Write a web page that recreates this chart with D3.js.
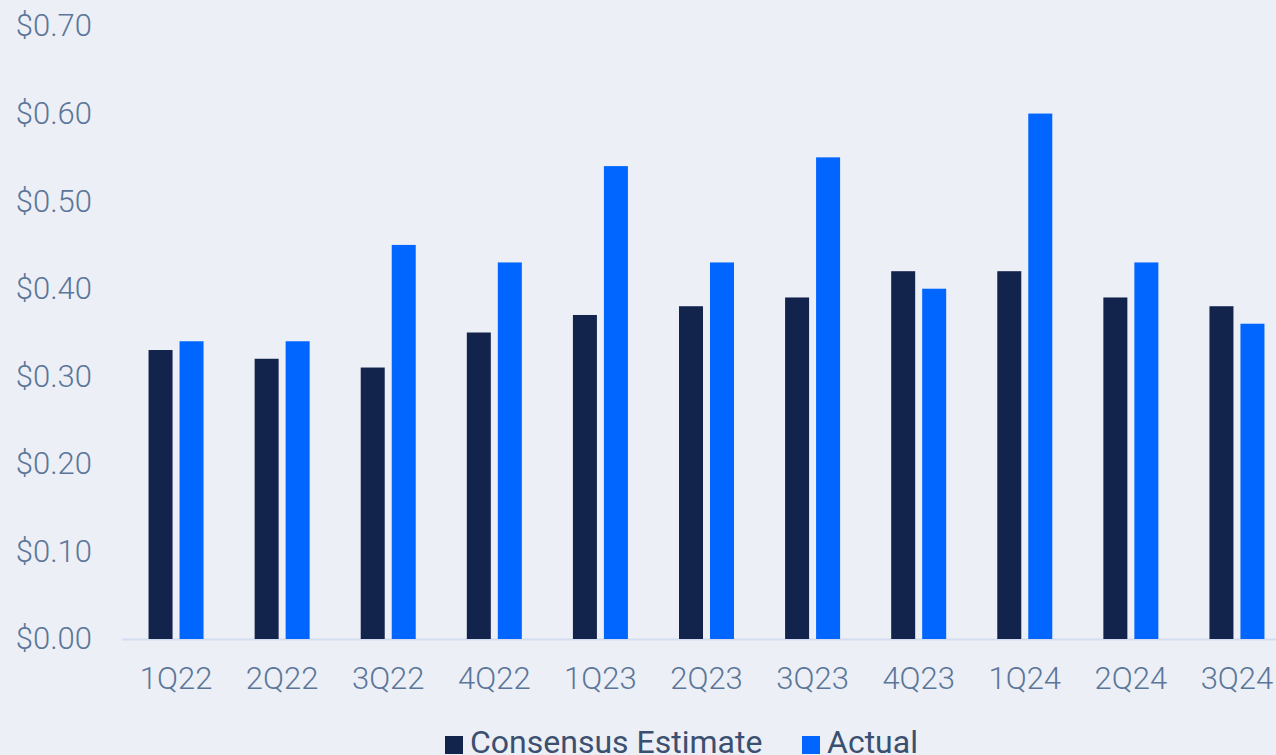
<!DOCTYPE html>
<html>
<head>
<meta charset="utf-8">
<script src="https://cdn.jsdelivr.net/npm/d3@7"></script>
<style>
  html, body { margin: 0; padding: 0; background: #eceff5; }
  svg { display: block; }
  .axis text { font-family: Roboto, sans-serif; font-weight: 300; font-size: 31px; fill: #5b7699; }
  .legend text { font-family: Roboto, sans-serif; font-size: 32px; fill: #3b5070; }
</style>
</head>
<body>
<script>
var quarters = ["1Q22", "2Q22", "3Q22", "4Q22", "1Q23", "2Q23", "3Q23", "4Q23", "1Q24", "2Q24", "3Q24"];
var consensus = [0.33, 0.32, 0.31, 0.35, 0.37, 0.38, 0.39, 0.42, 0.42, 0.39, 0.38];
var actual = [0.34, 0.34, 0.45, 0.43, 0.54, 0.43, 0.55, 0.40, 0.60, 0.43, 0.36];
var seriesNames = ["Consensus Estimate", "Actual"];
var colours = ["#12244c", "#0066ff"];
var yTicks = [0, 0.1, 0.2, 0.3, 0.4, 0.5, 0.6, 0.7];

var w = 1276;
var h = 755;

var data = quarters.map(function(q, i) {
  return { q: q, values: [consensus[i], actual[i]] };
});

var svg = d3.select("body")
  .append("svg")
  .attr("width", w)
  .attr("height", h);

var xScale = d3.scaleBand()
  .domain(quarters)
  .range([123, 1290])
  .padding(0);

var groupW = 55;
var x1 = d3.scaleBand()
  .domain(d3.range(seriesNames.length))
  .range([(xScale.bandwidth() - groupW) / 2, (xScale.bandwidth() + groupW) / 2])
  .paddingInner(7 / 31);

var yScale = d3.scaleLinear()
  .domain([0, 0.7])
  .range([639, 26]);

// baseline
svg.append("line")
  .attr("x1", 122).attr("x2", w)
  .attr("y1", yScale(0) + 0.5).attr("y2", yScale(0) + 0.5)
  .attr("stroke", "#d3dcf0")
  .attr("stroke-width", 2);

var groups = svg.selectAll(".grp")
  .data(data)
  .enter().append("g")
  .attr("class", "grp")
  .attr("transform", function(d) { return "translate(" + xScale(d.q) + ",0)"; });

groups.selectAll("rect")
  .data(function(d) { return d.values; })
  .enter().append("rect")
  .attr("x", function(d, i) { return x1(i); })
  .attr("width", x1.bandwidth())
  .attr("y", function(d) { return yScale(d); })
  .attr("height", function(d) { return yScale(0) - yScale(d); })
  .attr("fill", function(d, i) { return colours[i]; });

var yAxis = d3.axisLeft(yScale)
  .tickValues(yTicks)
  .tickSize(0)
  .tickPadding(8)
  .tickFormat(function(d) { return "$" + d3.format(".2f")(d); });

svg.append("g")
  .attr("class", "axis")
  .attr("transform", "translate(100,0)")
  .call(yAxis)
  .call(function(g) { g.select(".domain").remove(); });

var xAxis = d3.axisBottom(xScale)
  .tickSize(0)
  .tickPadding(28);

svg.append("g")
  .attr("class", "axis")
  .attr("transform", "translate(0," + yScale(0) + ")")
  .call(xAxis)
  .call(function(g) { g.select(".domain").remove(); });

// legend
var legendX = [445, 802];
var legend = svg.append("g").attr("class", "legend");
seriesNames.forEach(function(name, i) {
  legend.append("rect")
    .attr("x", legendX[i]).attr("y", 736)
    .attr("width", 18).attr("height", 18)
    .attr("fill", colours[i]);
  legend.append("text")
    .attr("x", legendX[i] + 25).attr("y", 753)
    .text(name);
});
</script>
</body>
</html>
